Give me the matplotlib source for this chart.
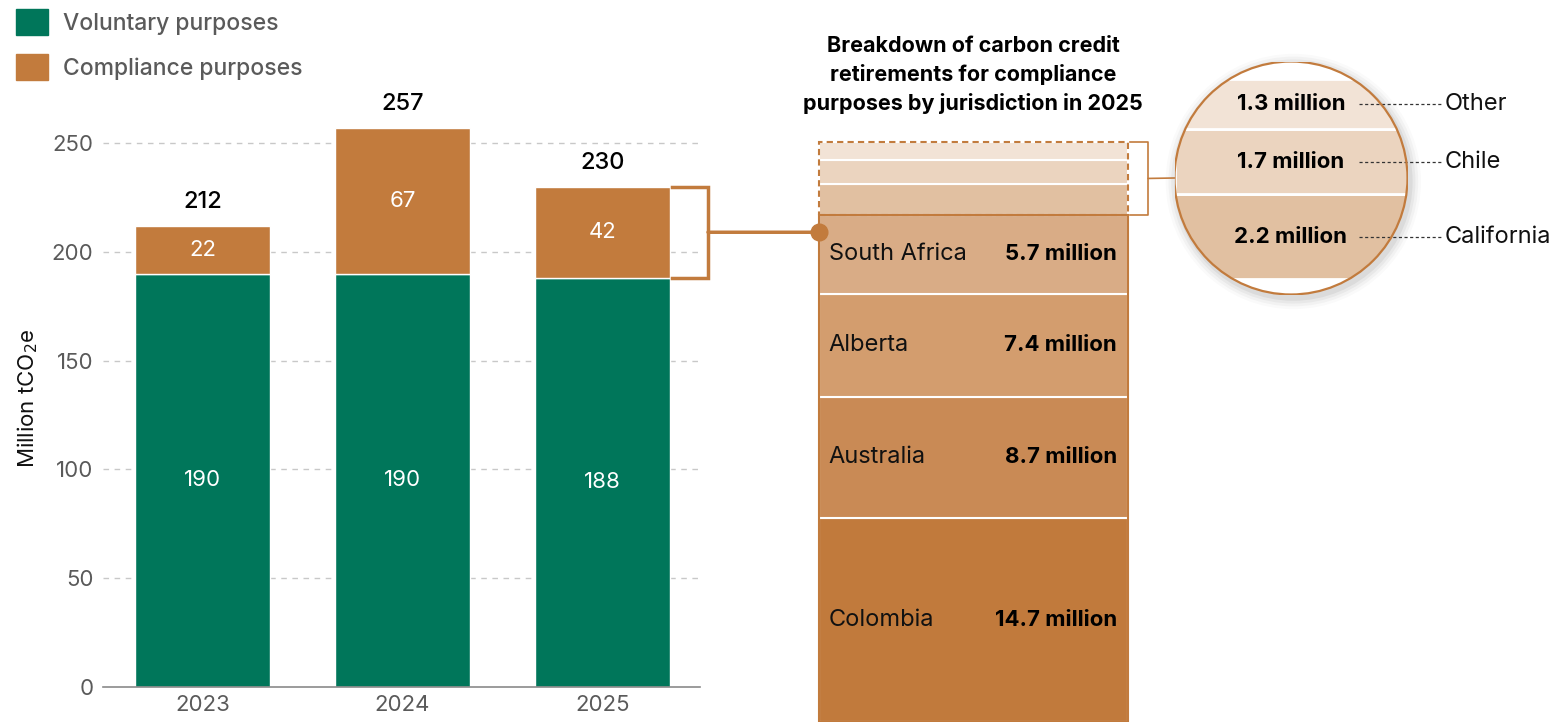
import numpy as np
import matplotlib.pyplot as plt
from matplotlib.patches import Circle, Rectangle, ConnectionPatch
from matplotlib.transforms import blended_transform_factory

plt.rcParams['font.family'] = ['Inter', 'DejaVu Sans']

# retirements per year, million tCO2e
years = ['2023', '2024', '2025']
voluntary = [190, 190, 188]
compliance = [22, 67, 42]
totals = [212, 257, 230]
yticks = [0, 50, 100, 150, 200, 250]

# 2025 compliance retirements by jurisdiction, million tCO2e
regions = ['Colombia', 'Australia', 'Alberta', 'South Africa']
region_vals = [14.7, 8.7, 7.4, 5.7]
small_regions = ['California', 'Chile', 'Other']
small_vals = [2.2, 1.7, 1.3]

green = '#00765A'
orange = '#C27B3D'
region_cols = ['#C17A3C', '#C98A55', '#D39D6E', '#D9AC86']
small_cols = ['#E1C0A1', '#EBD4BF', '#F2E3D6']
grey = '#5A5A5A'

W, H = 1565, 722
fig = plt.figure(figsize=(W / 100, H / 100), dpi=100)


def px_box(x0, y0, x1, y1):
    # pixel box (top-left origin) -> figure fraction rect
    return [x0 / W, 1 - y1 / H, (x1 - x0) / W, (y1 - y0) / H]


# ---- main stacked bars ----
ax = fig.add_axes(px_box(103, 110.4, 700, 687))
x = np.arange(len(years))
bw = 0.675
ax.bar(x, voluntary, bw, color=green, edgecolor='white', linewidth=1, zorder=2)
ax.bar(x, compliance, bw, bottom=voluntary, color=orange, edgecolor='white', linewidth=1, zorder=2)
for i in range(len(years)):
    ax.text(x[i], voluntary[i] / 2, str(voluntary[i]), ha='center', va='center',
            color='white', fontsize=16)
    ax.text(x[i], voluntary[i] + compliance[i] / 2, str(compliance[i]), ha='center',
            va='center', color='white', fontsize=16)
    ax.annotate(str(totals[i]), (x[i], totals[i]), xytext=(0, 17), textcoords='offset points',
                ha='center', va='center', fontsize=17, fontweight='medium', color='black')

ax.set_xlim(-0.4975, 2.4875)
ax.set_ylim(0, 265)
ax.set_yticks(yticks)
ax.set_xticks(x, years)
ax.tick_params(length=0, labelsize=16, labelcolor=grey)
ax.tick_params(axis='y', pad=7)
ax.tick_params(axis='x', pad=6)
for t in yticks[1:]:
    ax.axhline(t, color='#C8C8C8', lw=1, ls=(0, (4, 4)), zorder=0)
for s in ['top', 'right', 'left']:
    ax.spines[s].set_visible(False)
ax.spines['bottom'].set_color('#8A8A8A')
ax.spines['bottom'].set_linewidth(1.2)
ax.set_ylabel('Million tCO$_2$e', fontsize=16, color='#111111', labelpad=8)

# bracket round the 2025 compliance segment
i25 = 2
bx0 = x[i25] + 0.3475
bx1 = x[i25] + 0.5275
lo, hi = voluntary[i25], totals[i25]
ax.plot([bx0, bx1, bx1, bx0], [hi, hi, lo, lo], color=orange, lw=2.5, clip_on=False,
        solid_joinstyle='miter')
mid = (lo + hi) / 2

# ---- breakdown column ----
ax2 = fig.add_axes(px_box(819, 142.3, 1128, 722))
tr_r = blended_transform_factory(ax2.transAxes, ax2.transData)
bottom = 0
for name, v, c in zip(regions, region_vals, region_cols):
    ax2.bar(0, v, 1, bottom=bottom, color=c, edgecolor='white', linewidth=1.5)
    yc = bottom + v / 2
    ax2.text(0.032, yc, name, transform=tr_r, ha='left', va='center', fontsize=17,
             color='#111111')
    ax2.text(0.964, yc, f'{v} million', transform=tr_r, ha='right', va='center',
             fontsize=16, fontweight='bold', color='black')
    bottom += v
solid_top = bottom
for v, c in zip(small_vals, small_cols):
    ax2.bar(0, v, 1, bottom=bottom, color=c, edgecolor='white', linewidth=1.5)
    bottom += v
ax2.add_patch(Rectangle((-0.5, 0), 1, solid_top, fill=False, edgecolor=orange, lw=1.5,
                        zorder=5, clip_on=False))
ax2.add_patch(Rectangle((-0.5, solid_top), 1, bottom - solid_top, fill=False, edgecolor=orange,
                        lw=1.5, ls=(0, (3, 2)), zorder=5, clip_on=False))
ax2.set_xlim(-0.5, 0.5)
ax2.set_ylim(0, sum(region_vals) + sum(small_vals))
ax2.axis('off')

fig.text(973 / W, 1 - 75 / H,
         'Breakdown of carbon credit\nretirements for compliance\npurposes by jurisdiction in 2025',
         ha='center', va='center', fontsize=15.5, fontweight='bold', linespacing=1.45)

# connector from the 2025 bracket to the breakdown column
tr_link = blended_transform_factory(ax2.transAxes, ax.transData)
con = ConnectionPatch(xyA=(bx1, mid), coordsA=ax.transData, xyB=(0, mid), coordsB=tr_link,
                      color=orange, lw=2.5)
fig.add_artist(con)
ax2.plot([0], [mid], 'o', color=orange, ms=12, transform=tr_link, clip_on=False, zorder=6)

# small bracket on the right of the minor jurisdictions
ax2.plot([1.0065, 1.065, 1.065, 1.0065], [bottom, bottom, solid_top, solid_top],
         color=orange, lw=1.2, transform=tr_r, clip_on=False)

# ---- magnifier circle ----
ax3 = fig.add_axes(px_box(1174.5, 61.5, 1407.5, 294.5))
ax3.set_xlim(0, 1)
ax3.set_ylim(-0.403, 5.649)
ax3.axis('off')
for k, a in enumerate([0.05, 0.04, 0.03, 0.02]):
    r = 0.5 + 0.012 * (k + 1)
    ax3.add_patch(Circle((0.51, 0.485), r, transform=ax3.transAxes, facecolor='#000000',
                         alpha=a, edgecolor='none', clip_on=False, zorder=0))
ax3.add_patch(Circle((0.5, 0.5), 0.5, transform=ax3.transAxes, facecolor='white',
                     edgecolor='none', zorder=1))
clip = Circle((0.5, 0.5), 0.5, transform=ax3.transAxes)
tr3 = blended_transform_factory(ax3.transAxes, ax3.transData)
b = 0
for name, v, c in zip(small_regions, small_vals, small_cols):
    bars = ax3.bar(0.5, v, 1, bottom=b, color=c, edgecolor='white', linewidth=2, zorder=2)
    for p in bars:
        p.set_clip_path(clip)
    yc = b + v / 2
    ax3.text(0.5, yc, f'{v} million', ha='center', va='center', fontsize=16,
             fontweight='bold', color='black', zorder=4)
    ax3.plot([0.79, 1.148], [yc, yc], color='#333333', lw=0.9, ls=(0, (2.5, 2)),
             transform=tr3, clip_on=False, zorder=4)
    ax3.text(1.16, yc, name, transform=tr3, ha='left', va='center', fontsize=17,
             color='#111111')
    b += v
ax3.add_patch(Circle((0.5, 0.5), 0.5, transform=ax3.transAxes, facecolor='none',
                     edgecolor=orange, lw=1.6, zorder=5))

con2 = ConnectionPatch(xyA=(1.065, (solid_top + bottom) / 2), coordsA=tr_r,
                       xyB=(0, 0.5), coordsB=ax3.transAxes, color=orange, lw=1.2)
fig.add_artist(con2)

# ---- legend ----
handles = [Rectangle((0, 0), 1, 1, color=green), Rectangle((0, 0), 1, 1, color=orange)]
fig.legend(handles, ['Voluntary purposes', 'Compliance purposes'], loc='upper left',
           bbox_to_anchor=(-0.003, 1.016),
           frameon=False, prop={'size': 16.5, 'weight': 'medium'}, labelcolor=grey,
           handlelength=1.4, handleheight=1.35, handletextpad=0.65, labelspacing=0.85)

plt.savefig('out.png', dpi=100)
